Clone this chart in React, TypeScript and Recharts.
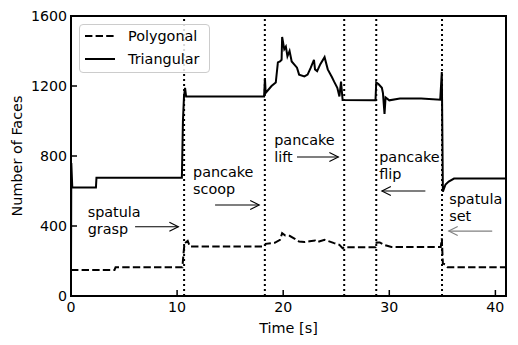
import React from 'react';
import { LineChart, Line, XAxis, YAxis, ReferenceLine, ReferenceArea, ReferenceDot } from 'recharts';

const triTime = [0, 0.03, 0.12, 2.35, 2.4, 10.45, 10.55, 10.65, 10.75, 10.85, 18.2, 18.28, 18.35, 18.9, 19.3, 19.5, 19.7, 19.85, 19.9, 20.1, 20.25, 20.4, 20.6, 20.8, 21.3, 21.5, 22.0, 22.3, 22.6, 22.9, 23.0, 23.2, 23.5, 23.9, 24.2, 24.6, 24.8, 25.1, 25.3, 25.45, 25.6, 28.7, 28.77, 29.0, 29.3, 29.4, 29.55, 29.65, 30.0, 31.0, 33.0, 34.8, 34.95, 35.05, 35.3, 35.6, 36.1, 41];
const triFaces = [150, 760, 620, 620, 676, 676, 1000, 1139, 1189, 1140, 1140, 1246, 1160, 1200, 1220, 1335, 1340, 1350, 1480, 1410, 1425, 1370, 1400, 1340, 1305, 1265, 1255, 1265, 1305, 1350, 1295, 1285, 1325, 1365, 1295, 1250, 1225, 1190, 1140, 1225, 1120, 1118, 1220, 1210, 1190, 1160, 1040, 1135, 1118, 1128, 1128, 1122, 1280, 596, 637, 654, 671, 671];

const polyTime = [0, 4.1, 4.2, 10.5, 10.6, 10.7, 11.0, 11.2, 18.25, 18.35, 19.2, 19.7, 19.9, 20.2, 20.6, 21.1, 21.5, 22.0, 22.5, 23.0, 23.2, 23.9, 24.4, 24.8, 25.3, 25.6, 25.8, 28.7, 28.8, 29.1, 29.5, 29.8, 30.2, 34.85, 34.95, 35.05, 35.3, 35.5, 41];
const polyFaces = [149, 149, 164, 164, 240, 300, 315, 283, 283, 298, 304, 321, 359, 346, 344, 327, 311, 308, 313, 317, 308, 321, 311, 302, 292, 273, 279, 279, 306, 306, 292, 287, 280, 280, 330, 185, 180, 165, 165];

const eventTimes = [10.66, 18.27, 25.75, 28.77, 34.97];
const xTicks = [0, 10, 20, 30, 40];
const yTicks = [0, 400, 800, 1200, 1600];

const annotLabels = [['spatula', 'grasp'], ['pancake', 'scoop'], ['pancake', 'lift'], ['pancake', 'flip'], ['spatula', 'set']];
const annotTextT = [1.57, 11.5, 19.15, 29.05, 35.65];
const annotTextV = [482, 709, 891, 794, 554];
const arrowFromT = [6.04, 13.58, 21.3, 33.4, 39.7];
const arrowToT = [10.12, 17.74, 25.2, 29.3, 35.6];
const arrowV = [396, 520, 794, 600, 371];
const arrowColor = ['#000', '#000', '#000', '#000', '#808080'];

const seriesNames = ['Polygonal', 'Triangular'];

const triData = triTime.map((t, i) => ({ t, v: triFaces[i] }));
const polyData = polyTime.map((t, i) => ({ t, v: polyFaces[i] }));

const FONT = 'DejaVu Sans';

const YTick = (props: any) => {
  const { x, y, payload } = props;
  return (
    <g>
      <line x1={x + 4} x2={x + 10} y1={y} y2={y} stroke="#000" strokeWidth={1.5} />
      <text x={x} y={y} dy={5} textAnchor="end" fontSize={14.2} fontFamily={FONT} fill="#000">
        {payload.value}
      </text>
    </g>
  );
};

const XTick = (props: any) => {
  const { x, y, payload } = props;
  return (
    <g>
      <line x1={x} x2={x} y1={y - 4} y2={y - 10} stroke="#000" strokeWidth={1.5} />
      <text x={x} y={y} dy={11.7} textAnchor="middle" fontSize={14.2} fontFamily={FONT} fill="#000">
        {payload.value}
      </text>
    </g>
  );
};

const makeArrow = (color: string) => (props: any) => {
  const { x1, y1, x2, y2 } = props;
  const dir = x2 > x1 ? 1 : -1;
  return (
    <g>
      <line x1={x1} y1={y1} x2={x2} y2={y2} stroke={color} strokeWidth={1.1} />
      <polyline
        points={`${x2 - dir * 9},${y2 - 4.5} ${x2},${y2} ${x2 - dir * 9},${y2 + 4.5}`}
        fill="none"
        stroke={color}
        strokeWidth={1.1}
      />
    </g>
  );
};

const makeText = (lines: string[]) => (props: any) => {
  const { cx, cy } = props;
  return (
    <text x={cx} y={cy} fontSize={14.4} fontFamily={FONT} fill="#000">
      {lines.map((l, i) => (
        <tspan key={i} x={cx} dy={i === 0 ? 5 : 17}>
          {l}
        </tspan>
      ))}
    </text>
  );
};

const YLabel = (props: any) => {
  const { viewBox } = props;
  const cx = viewBox.x + 17;
  const cy = viewBox.y + viewBox.height / 2;
  return (
    <text
      x={cx}
      y={cy}
      transform={`rotate(-90 ${cx} ${cy})`}
      textAnchor="middle"
      dominantBaseline="central"
      fontSize={14.4}
      fontFamily={FONT}
      fill="#000"
    >
      Number of Faces
    </text>
  );
};

export default function App() {
  return (
    <div style={{ position: 'absolute', left: 0, top: 0, width: 518, height: 345, background: '#fff', fontFamily: FONT }}>
      <LineChart width={518} height={345} margin={{ top: 16, right: 12, left: 0, bottom: 0 }}>
        <XAxis
          dataKey="t"
          type="number"
          domain={[0, 41]}
          ticks={xTicks}
          allowDataOverflow
          height={49}
          tickSize={0}
          tickMargin={4}
          axisLine={false}
          tickLine={false}
          tick={<XTick />}
          label={{ value: 'Time [s]', position: 'insideBottom', offset: 12, fontSize: 14.4, fontFamily: FONT, fill: '#000' }}
        />
        <YAxis
          type="number"
          domain={[0, 1600]}
          ticks={yTicks}
          allowDataOverflow
          width={71}
          tickSize={0}
          tickMargin={4}
          axisLine={false}
          tickLine={false}
          tick={<YTick />}
          label={<YLabel />}
        />
        {eventTimes.map((t, i) => (
          <ReferenceLine key={'ev' + i} x={t} stroke="#000" strokeWidth={2} strokeDasharray="2 3" />
        ))}
        <Line data={polyData} dataKey="v" name={seriesNames[0]} type="linear" stroke="#000" strokeWidth={2} strokeDasharray="7.4 3.2" dot={false} isAnimationActive={false} />
        <Line data={triData} dataKey="v" name={seriesNames[1]} type="linear" stroke="#000" strokeWidth={2} dot={false} isAnimationActive={false} />
        {arrowV.map((v, i) => (
          <ReferenceLine
            key={'ar' + i}
            segment={[{ x: arrowFromT[i], y: v }, { x: arrowToT[i], y: v }]}
            shape={makeArrow(arrowColor[i])}
          />
        ))}
        {annotLabels.map((lines, i) => (
          <ReferenceDot key={'tx' + i} x={annotTextT[i]} y={annotTextV[i]} r={0} shape={makeText(lines)} />
        ))}
        <ReferenceArea x1={0} x2={41} y1={0} y2={1600} fill="none" stroke="#000" strokeWidth={2} />
      </LineChart>
      <div
        style={{
          position: 'absolute',
          left: 79,
          top: 24,
          width: 131,
          height: 49,
          boxSizing: 'border-box',
          border: '1px solid #ccc',
          borderRadius: 4,
          background: 'rgba(255,255,255,0.85)',
        }}
      >
        <svg width={131} height={49} style={{ position: 'absolute', left: -1, top: -1 }}>
          <line x1={6} x2={36} y1={12} y2={12} stroke="#000" strokeWidth={2} strokeDasharray="7.4 3.2" />
          <line x1={6} x2={36} y1={35} y2={35} stroke="#000" strokeWidth={2} />
          <text x={49} y={12} dy={5} fontSize={14.4} fontFamily={FONT} fill="#000">{seriesNames[0]}</text>
          <text x={49} y={35} dy={5} fontSize={14.4} fontFamily={FONT} fill="#000">{seriesNames[1]}</text>
        </svg>
      </div>
    </div>
  );
}
